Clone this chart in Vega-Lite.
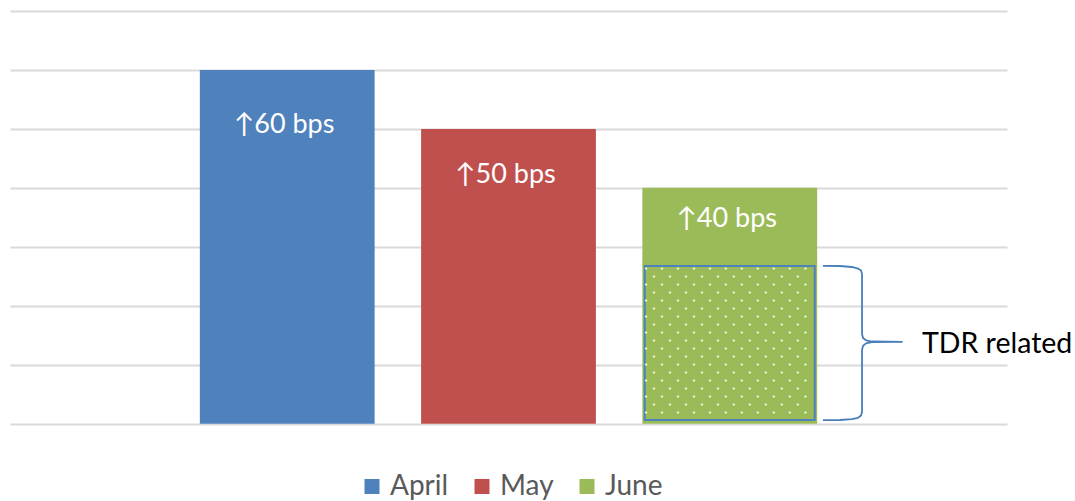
{
  "$schema": "https://vega.github.io/schema/vega-lite/v6.json",
  "autosize": {"type": "none"},
  "width": 997,
  "height": 412.7,
  "padding": {"left": 10, "top": 11, "right": 68, "bottom": 77.3},
  "background": "white",
  "config": {"view": {"stroke": null}, "font": "Lato"},
  "datasets": {
    "bars": [
      {"month": "April", "change": 60, "label": "↑60 bps", "label_y": 49.25},
      {"month": "May", "change": 50, "label": "↑50 bps", "label_y": 40.77},
      {"month": "June", "change": 40, "label": "↑40 bps", "label_y": 33.41}
    ],
    "tdr": [{"month": "June", "tdr": 26.75}],
    "brace": [
      {"i": 0, "bx": 81.54, "by": 26.78},
      {"i": 1, "bx": 83.25, "by": 26.75},
      {"i": 2, "bx": 84.45, "by": 26.58},
      {"i": 3, "bx": 85.06, "by": 26.32},
      {"i": 4, "bx": 85.36, "by": 25.98},
      {"i": 5, "bx": 85.46, "by": 25.39},
      {"i": 6, "bx": 85.46, "by": 15.21},
      {"i": 7, "bx": 85.56, "by": 14.54},
      {"i": 8, "bx": 85.86, "by": 14.15},
      {"i": 9, "bx": 86.46, "by": 13.94},
      {"i": 10, "bx": 89.47, "by": 13.89},
      {"i": 11, "bx": 86.46, "by": 13.82},
      {"i": 12, "bx": 85.86, "by": 13.62},
      {"i": 13, "bx": 85.56, "by": 13.23},
      {"i": 14, "bx": 85.46, "by": 12.5},
      {"i": 15, "bx": 85.46, "by": 1.98},
      {"i": 16, "bx": 85.36, "by": 1.39},
      {"i": 17, "bx": 85.06, "by": 1.0},
      {"i": 18, "bx": 84.45, "by": 0.76},
      {"i": 19, "bx": 83.25, "by": 0.63},
      {"i": 20, "bx": 81.54, "by": 0.59}
    ],
    "note": [{"note": "TDR related"}]
  },
  "layer": [
    {
      "layer": [
        {
          "data": {"name": "bars"},
          "mark": {"type": "bar"},
          "encoding": {
            "x": {"field": "month", "type": "nominal", "sort": ["April", "May", "June"], "scale": {"paddingInner": 0.21, "paddingOuter": 0.858}, "axis": null},
            "y": {"field": "change", "type": "quantitative", "scale": {"domain": [0, 70], "nice": false}, "axis": {"values": [0, 10, 20, 30, 40, 50, 60, 70], "grid": true, "gridColor": "#d9d9d9", "gridWidth": 2, "labels": false, "ticks": false, "domain": false, "title": null}},
            "color": {
              "field": "month", "type": "nominal", "sort": ["April", "May", "June"],
              "scale": {"domain": ["April", "May", "June"], "range": ["#4f81bd", "#c0504d", "#9bbb59"]},
              "legend": {"orient": "none", "legendX": 348, "legendY": 461.5, "direction": "horizontal", "title": null, "symbolType": "square", "symbolSize": 225, "symbolStrokeWidth": 0, "symbolOpacity": 1, "labelFontSize": 28, "labelFont": "Lato", "labelColor": "#595959", "labelOffset": 4, "columnPadding": 19, "padding": 0}
            }
          }
        },
        {
          "data": {"name": "tdr"},
          "mark": {"type": "bar", "fill": "#9bbb59", "stroke": "#4f81bd", "strokeWidth": 2, "width": {"band": 0.9725}},
          "encoding": {
            "x": {"field": "month", "type": "nominal", "sort": ["April", "May", "June"], "scale": {"paddingInner": 0.21, "paddingOuter": 0.858}, "axis": null},
            "y": {"field": "tdr", "type": "quantitative", "scale": {"domain": [0, 70], "nice": false}, "axis": {"values": [0, 10, 20, 30, 40, 50, 60, 70], "grid": true, "gridColor": "#d9d9d9", "gridWidth": 2, "labels": false, "ticks": false, "domain": false, "title": null}},
            "y2": {"datum": 0.63}
          }
        },
        {
          "data": {"name": "tdr"},
          "mark": {
            "type": "text", "font": "DejaVu Sans Mono", "fontSize": 6.64, "lineHeight": 16, "align": "left", "baseline": "alphabetic", "color": "white", "dx": 1.7, "dy": 5.4,
            "text": [
              "•\u00a0\u00a0\u00a0•\u00a0\u00a0\u00a0•\u00a0\u00a0\u00a0•\u00a0\u00a0\u00a0•\u00a0\u00a0\u00a0•\u00a0\u00a0\u00a0•\u00a0\u00a0\u00a0•\u00a0\u00a0\u00a0•\u00a0\u00a0\u00a0•\u00a0\u00a0\u00a0•",
              "•\u00a0\u00a0\u00a0•\u00a0\u00a0\u00a0•\u00a0\u00a0\u00a0•\u00a0\u00a0\u00a0•\u00a0\u00a0\u00a0•\u00a0\u00a0\u00a0•\u00a0\u00a0\u00a0•\u00a0\u00a0\u00a0•\u00a0\u00a0\u00a0•\u00a0\u00a0\u00a0•",
              "•\u00a0\u00a0\u00a0•\u00a0\u00a0\u00a0•\u00a0\u00a0\u00a0•\u00a0\u00a0\u00a0•\u00a0\u00a0\u00a0•\u00a0\u00a0\u00a0•\u00a0\u00a0\u00a0•\u00a0\u00a0\u00a0•\u00a0\u00a0\u00a0•\u00a0\u00a0\u00a0•",
              "•\u00a0\u00a0\u00a0•\u00a0\u00a0\u00a0•\u00a0\u00a0\u00a0•\u00a0\u00a0\u00a0•\u00a0\u00a0\u00a0•\u00a0\u00a0\u00a0•\u00a0\u00a0\u00a0•\u00a0\u00a0\u00a0•\u00a0\u00a0\u00a0•\u00a0\u00a0\u00a0•",
              "•\u00a0\u00a0\u00a0•\u00a0\u00a0\u00a0•\u00a0\u00a0\u00a0•\u00a0\u00a0\u00a0•\u00a0\u00a0\u00a0•\u00a0\u00a0\u00a0•\u00a0\u00a0\u00a0•\u00a0\u00a0\u00a0•\u00a0\u00a0\u00a0•\u00a0\u00a0\u00a0•",
              "•\u00a0\u00a0\u00a0•\u00a0\u00a0\u00a0•\u00a0\u00a0\u00a0•\u00a0\u00a0\u00a0•\u00a0\u00a0\u00a0•\u00a0\u00a0\u00a0•\u00a0\u00a0\u00a0•\u00a0\u00a0\u00a0•\u00a0\u00a0\u00a0•\u00a0\u00a0\u00a0•",
              "•\u00a0\u00a0\u00a0•\u00a0\u00a0\u00a0•\u00a0\u00a0\u00a0•\u00a0\u00a0\u00a0•\u00a0\u00a0\u00a0•\u00a0\u00a0\u00a0•\u00a0\u00a0\u00a0•\u00a0\u00a0\u00a0•\u00a0\u00a0\u00a0•\u00a0\u00a0\u00a0•",
              "•\u00a0\u00a0\u00a0•\u00a0\u00a0\u00a0•\u00a0\u00a0\u00a0•\u00a0\u00a0\u00a0•\u00a0\u00a0\u00a0•\u00a0\u00a0\u00a0•\u00a0\u00a0\u00a0•\u00a0\u00a0\u00a0•\u00a0\u00a0\u00a0•\u00a0\u00a0\u00a0•",
              "•\u00a0\u00a0\u00a0•\u00a0\u00a0\u00a0•\u00a0\u00a0\u00a0•\u00a0\u00a0\u00a0•\u00a0\u00a0\u00a0•\u00a0\u00a0\u00a0•\u00a0\u00a0\u00a0•\u00a0\u00a0\u00a0•\u00a0\u00a0\u00a0•\u00a0\u00a0\u00a0•",
              "•\u00a0\u00a0\u00a0•\u00a0\u00a0\u00a0•\u00a0\u00a0\u00a0•\u00a0\u00a0\u00a0•\u00a0\u00a0\u00a0•\u00a0\u00a0\u00a0•\u00a0\u00a0\u00a0•\u00a0\u00a0\u00a0•\u00a0\u00a0\u00a0•\u00a0\u00a0\u00a0•"
            ]
          },
          "encoding": {
            "x": {"field": "month", "type": "nominal", "sort": ["April", "May", "June"], "scale": {"paddingInner": 0.21, "paddingOuter": 0.858}, "axis": null, "bandPosition": 0},
            "y": {"field": "tdr", "type": "quantitative", "scale": {"domain": [0, 70], "nice": false}, "axis": {"values": [0, 10, 20, 30, 40, 50, 60, 70], "grid": true, "gridColor": "#d9d9d9", "gridWidth": 2, "labels": false, "ticks": false, "domain": false, "title": null}}
          }
        },
        {
          "data": {"name": "tdr"},
          "mark": {
            "type": "text", "font": "DejaVu Sans Mono", "fontSize": 6.64, "lineHeight": 16, "align": "left", "baseline": "alphabetic", "color": "white", "dx": 9.7, "dy": 13.4,
            "text": [
              "•\u00a0\u00a0\u00a0•\u00a0\u00a0\u00a0•\u00a0\u00a0\u00a0•\u00a0\u00a0\u00a0•\u00a0\u00a0\u00a0•\u00a0\u00a0\u00a0•\u00a0\u00a0\u00a0•\u00a0\u00a0\u00a0•\u00a0\u00a0\u00a0•",
              "•\u00a0\u00a0\u00a0•\u00a0\u00a0\u00a0•\u00a0\u00a0\u00a0•\u00a0\u00a0\u00a0•\u00a0\u00a0\u00a0•\u00a0\u00a0\u00a0•\u00a0\u00a0\u00a0•\u00a0\u00a0\u00a0•\u00a0\u00a0\u00a0•",
              "•\u00a0\u00a0\u00a0•\u00a0\u00a0\u00a0•\u00a0\u00a0\u00a0•\u00a0\u00a0\u00a0•\u00a0\u00a0\u00a0•\u00a0\u00a0\u00a0•\u00a0\u00a0\u00a0•\u00a0\u00a0\u00a0•\u00a0\u00a0\u00a0•",
              "•\u00a0\u00a0\u00a0•\u00a0\u00a0\u00a0•\u00a0\u00a0\u00a0•\u00a0\u00a0\u00a0•\u00a0\u00a0\u00a0•\u00a0\u00a0\u00a0•\u00a0\u00a0\u00a0•\u00a0\u00a0\u00a0•\u00a0\u00a0\u00a0•",
              "•\u00a0\u00a0\u00a0•\u00a0\u00a0\u00a0•\u00a0\u00a0\u00a0•\u00a0\u00a0\u00a0•\u00a0\u00a0\u00a0•\u00a0\u00a0\u00a0•\u00a0\u00a0\u00a0•\u00a0\u00a0\u00a0•\u00a0\u00a0\u00a0•",
              "•\u00a0\u00a0\u00a0•\u00a0\u00a0\u00a0•\u00a0\u00a0\u00a0•\u00a0\u00a0\u00a0•\u00a0\u00a0\u00a0•\u00a0\u00a0\u00a0•\u00a0\u00a0\u00a0•\u00a0\u00a0\u00a0•\u00a0\u00a0\u00a0•",
              "•\u00a0\u00a0\u00a0•\u00a0\u00a0\u00a0•\u00a0\u00a0\u00a0•\u00a0\u00a0\u00a0•\u00a0\u00a0\u00a0•\u00a0\u00a0\u00a0•\u00a0\u00a0\u00a0•\u00a0\u00a0\u00a0•\u00a0\u00a0\u00a0•",
              "•\u00a0\u00a0\u00a0•\u00a0\u00a0\u00a0•\u00a0\u00a0\u00a0•\u00a0\u00a0\u00a0•\u00a0\u00a0\u00a0•\u00a0\u00a0\u00a0•\u00a0\u00a0\u00a0•\u00a0\u00a0\u00a0•\u00a0\u00a0\u00a0•",
              "•\u00a0\u00a0\u00a0•\u00a0\u00a0\u00a0•\u00a0\u00a0\u00a0•\u00a0\u00a0\u00a0•\u00a0\u00a0\u00a0•\u00a0\u00a0\u00a0•\u00a0\u00a0\u00a0•\u00a0\u00a0\u00a0•\u00a0\u00a0\u00a0•"
            ]
          },
          "encoding": {
            "x": {"field": "month", "type": "nominal", "sort": ["April", "May", "June"], "scale": {"paddingInner": 0.21, "paddingOuter": 0.858}, "axis": null, "bandPosition": 0},
            "y": {"field": "tdr", "type": "quantitative", "scale": {"domain": [0, 70], "nice": false}, "axis": {"values": [0, 10, 20, 30, 40, 50, 60, 70], "grid": true, "gridColor": "#d9d9d9", "gridWidth": 2, "labels": false, "ticks": false, "domain": false, "title": null}}
          }
        },
        {
          "data": {"name": "bars"},
          "mark": {"type": "text", "font": "Lato", "fontSize": 27, "color": "white", "align": "center", "baseline": "alphabetic", "dx": -3},
          "encoding": {
            "x": {"field": "month", "type": "nominal", "sort": ["April", "May", "June"], "scale": {"paddingInner": 0.21, "paddingOuter": 0.858}, "axis": null},
            "y": {"field": "label_y", "type": "quantitative", "scale": {"domain": [0, 70], "nice": false}, "axis": {"values": [0, 10, 20, 30, 40, 50, 60, 70], "grid": true, "gridColor": "#d9d9d9", "gridWidth": 2, "labels": false, "ticks": false, "domain": false, "title": null}},
            "text": {"field": "label"}
          }
        }
      ]
    },
    {
      "layer": [
        {
          "data": {"name": "brace"},
          "mark": {"type": "line", "stroke": "#4a7ebb", "strokeWidth": 1.8, "strokeJoin": "round"},
          "encoding": {
            "x": {"field": "bx", "type": "quantitative", "scale": {"domain": [0, 100], "nice": false, "zero": false}, "axis": null},
            "y": {"field": "by", "type": "quantitative", "scale": {"domain": [0, 70], "nice": false}, "axis": {"values": [0, 10, 20, 30, 40, 50, 60, 70], "grid": true, "gridColor": "#d9d9d9", "gridWidth": 2, "labels": false, "ticks": false, "domain": false, "title": null}},
            "order": {"field": "i", "type": "quantitative"}
          }
        },
        {
          "data": {"name": "note"},
          "mark": {"type": "text", "font": "Lato", "fontSize": 28.5, "color": "black", "align": "left", "baseline": "alphabetic"},
          "encoding": {
            "x": {"datum": 91.47, "type": "quantitative", "scale": {"domain": [0, 100], "nice": false, "zero": false}, "axis": null},
            "y": {"datum": 12.04, "type": "quantitative", "scale": {"domain": [0, 70], "nice": false}, "axis": {"values": [0, 10, 20, 30, 40, 50, 60, 70], "grid": true, "gridColor": "#d9d9d9", "gridWidth": 2, "labels": false, "ticks": false, "domain": false, "title": null}},
            "text": {"field": "note"}
          }
        }
      ]
    }
  ],
  "resolve": {"scale": {"x": "independent"}, "axis": {"x": "independent"}}
}
